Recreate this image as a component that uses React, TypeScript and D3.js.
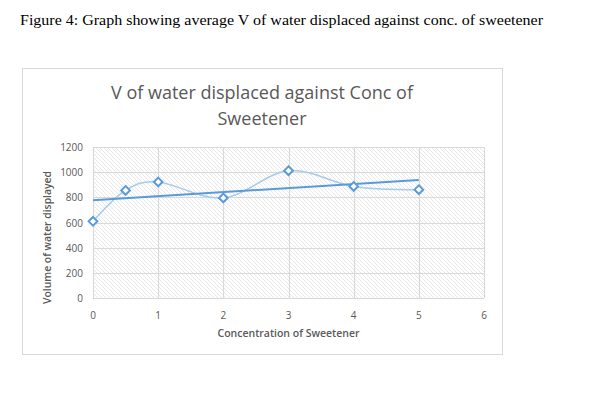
import React, { useEffect, useRef } from 'react';
import * as d3 from 'd3';

const concentrations = [0, 0.5, 1, 2, 3, 4, 5];
const volumes = [609, 855, 922, 795, 1012, 887, 861];
const xTicks = [0, 1, 2, 3, 4, 5, 6];
const yTicks = [0, 200, 400, 600, 800, 1000, 1200];

const W = 591;
const H = 398;

const App = () => {
  const svgRef = useRef<SVGSVGElement>(null);

  useEffect(() => {
    const svg = d3.select(svgRef.current);
    svg.selectAll('*').remove();

    const left = 93, right = 484, top = 147, bottom = 298;
    const x = d3.scaleLinear().domain([0, 6]).range([left, right]);
    const y = d3.scaleLinear().domain([0, 1200]).range([bottom, top]);
    const blue = '#5b9bd5';
    const grey = '#595959';

    const defs = svg.append('defs');
    const pat = defs.append('pattern')
      .attr('id', 'hatch')
      .attr('patternUnits', 'userSpaceOnUse')
      .attr('width', 4).attr('height', 4);
    pat.append('rect').attr('width', 4).attr('height', 4).attr('fill', '#fff');
    pat.append('path')
      .attr('d', 'M-1,-1 L5,5 M-1,3 L1,5 M3,-1 L5,1')
      .attr('stroke', '#e2e2e2').attr('stroke-width', 0.8);

    svg.append('rect').attr('width', W).attr('height', H).attr('fill', '#fff');

    // caption
    svg.append('text')
      .attr('x', 20).attr('y', 25)
      .attr('font-family', '"Liberation Serif", serif')
      .attr('font-size', 15.5)
      .attr('textLength', 523).attr('lengthAdjust', 'spacingAndGlyphs')
      .attr('fill', '#000')
      .text('Figure 4: Graph showing average V of water displaced against conc. of sweetener');

    // chart frame
    svg.append('rect')
      .attr('x', 22.5).attr('y', 68.5).attr('width', 480).attr('height', 286)
      .attr('fill', '#fff').attr('stroke', '#d9d9d9');

    // title
    const title = svg.append('text')
      .attr('text-anchor', 'middle')
      .attr('font-family', '"Open Sans", sans-serif')
      .attr('font-size', 18)
      .attr('fill', grey);
    title.append('tspan').attr('x', 262).attr('y', 99)
      .attr('textLength', 302).attr('lengthAdjust', 'spacingAndGlyphs')
      .text('V of water displaced against Conc of');
    title.append('tspan').attr('x', 262).attr('y', 125).text('Sweetener');

    // plot area
    svg.append('rect')
      .attr('x', left).attr('y', top).attr('width', right - left).attr('height', bottom - top)
      .attr('fill', 'url(#hatch)');

    svg.append('g').selectAll('line').data(yTicks).enter().append('line')
      .attr('x1', left).attr('x2', right)
      .attr('y1', d => Math.round(y(d)) + 0.5).attr('y2', d => Math.round(y(d)) + 0.5)
      .attr('stroke', '#d9d9d9').attr('stroke-width', 1.2);
    svg.append('g').selectAll('line').data(xTicks).enter().append('line')
      .attr('y1', top).attr('y2', bottom)
      .attr('x1', d => Math.round(x(d)) + 0.5).attr('x2', d => Math.round(x(d)) + 0.5)
      .attr('stroke', '#d9d9d9').attr('stroke-width', 1.2);

    // tick labels
    svg.append('g').selectAll('text').data(yTicks).enter().append('text')
      .attr('x', 83).attr('y', d => y(d) + 4)
      .attr('text-anchor', 'end')
      .attr('font-family', '"Open Sans", sans-serif').attr('font-size', 10)
      .attr('fill', grey)
      .text(d => d);
    svg.append('g').selectAll('text').data(xTicks).enter().append('text')
      .attr('x', d => x(d)).attr('y', 319)
      .attr('text-anchor', 'middle')
      .attr('font-family', '"Open Sans", sans-serif').attr('font-size', 10)
      .attr('fill', grey)
      .text(d => d);

    // axis titles
    svg.append('text')
      .attr('x', x(3)).attr('y', 337)
      .attr('text-anchor', 'middle')
      .attr('font-family', '"Open Sans", sans-serif').attr('font-size', 10)
      .attr('font-weight', 600).attr('fill', grey)
      .attr('textLength', 142).attr('lengthAdjust', 'spacingAndGlyphs')
      .text('Concentration of Sweetener');
    svg.append('text')
      .attr('transform', `translate(51, ${(top + bottom) / 2 + 15}) rotate(-90)`)
      .attr('text-anchor', 'middle')
      .attr('font-family', '"Open Sans", sans-serif').attr('font-size', 10)
      .attr('font-weight', 600).attr('fill', grey)
      .attr('textLength', 133).attr('lengthAdjust', 'spacingAndGlyphs')
      .text('Volume of water displayed');

    const pts: [number, number][] = concentrations.map((c, i) => [c, volumes[i]]);

    // smoothed series line
    const line = d3.line<[number, number]>()
      .x(d => x(d[0])).y(d => y(d[1]))
      .curve(d3.curveCardinal.tension(0));
    svg.append('path')
      .attr('d', line(pts))
      .attr('fill', 'none').attr('stroke', '#a9cbe9').attr('stroke-width', 1.5);

    // linear trendline
    const mx = d3.mean(concentrations) as number;
    const my = d3.mean(volumes) as number;
    const sxy = d3.sum(pts, d => (d[0] - mx) * (d[1] - my));
    const sxx = d3.sum(pts, d => (d[0] - mx) ** 2);
    const slope = sxy / sxx;
    const icpt = my - slope * mx;
    const x0 = d3.min(concentrations) as number;
    const x1 = d3.max(concentrations) as number;
    svg.append('line')
      .attr('x1', x(x0)).attr('y1', y(icpt + slope * x0))
      .attr('x2', x(x1)).attr('y2', y(icpt + slope * x1))
      .attr('stroke', blue).attr('stroke-width', 2);

    // diamond markers
    const diamond = d3.symbol().type(d3.symbolDiamond2).size(48);
    svg.append('g').selectAll('path').data(pts).enter().append('path')
      .attr('transform', d => `translate(${x(d[0])},${y(d[1])})`)
      .attr('d', diamond() as string)
      .attr('fill', '#fff').attr('stroke', blue).attr('stroke-width', 2);
  }, []);

  return (
    <svg
      ref={svgRef}
      width={W}
      height={H}
      style={{ position: 'absolute', left: 0, top: 0 }}
    />
  );
};

export default App;
